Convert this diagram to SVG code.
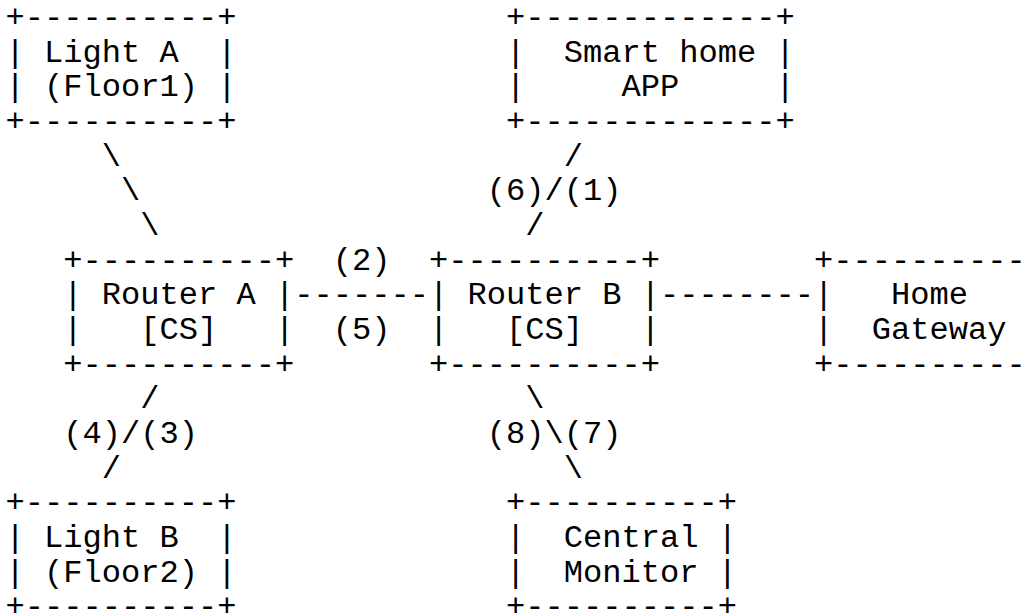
<svg xmlns="http://www.w3.org/2000/svg" width="1034" height="615" viewBox="0 0 1034 615">
<style>
text{font-family:"Liberation Mono","DejaVu Sans Mono",monospace;font-size:32.08px;fill:#000;white-space:pre}
</style>
<rect width="1034" height="615" fill="#fff"/>
<g id="lightA" xml:space="preserve">
<text x="5.4" y="27">+----------+</text>
<text x="5.4" y="61.67">| Light A  |</text>
<text x="5.4" y="96.34">| (Floor1) |</text>
<text x="5.4" y="131.01">+----------+</text>
</g>
<g id="smartHomeApp" xml:space="preserve">
<text x="505.9" y="27">+-------------+</text>
<text x="505.9" y="61.67">|  Smart home |</text>
<text x="505.9" y="96.34">|     APP     |</text>
<text x="505.9" y="131.01">+-------------+</text>
</g>
<g id="routerA" xml:space="preserve">
<text x="63.15" y="269.69">+----------+</text>
<text x="63.15" y="304.36">| Router A |</text>
<text x="63.15" y="339.03">|   [CS]   |</text>
<text x="63.15" y="373.7">+----------+</text>
</g>
<g id="routerB" xml:space="preserve">
<text x="428.9" y="269.69">+----------+</text>
<text x="428.9" y="304.36">| Router B |</text>
<text x="428.9" y="339.03">|   [CS]   |</text>
<text x="428.9" y="373.7">+----------+</text>
</g>
<g id="homeGateway" xml:space="preserve">
<text x="813.9" y="269.69">+----------</text>
<text x="813.9" y="304.36">|   Home</text>
<text x="813.9" y="339.03">|  Gateway</text>
<text x="813.9" y="373.7">+----------</text>
</g>
<g id="lightB" xml:space="preserve">
<text x="5.4" y="512.38">+----------+</text>
<text x="5.4" y="547.05">| Light B  |</text>
<text x="5.4" y="581.72">| (Floor2) |</text>
<text x="5.4" y="616.39">+----------+</text>
</g>
<g id="centralMonitor" xml:space="preserve">
<text x="505.9" y="512.38">+----------+</text>
<text x="505.9" y="547.05">|  Central |</text>
<text x="505.9" y="581.72">|  Monitor |</text>
<text x="505.9" y="616.39">+----------+</text>
</g>
<g id="connectors" xml:space="preserve">
<text x="101.65" y="165.68">\</text>
<text x="120.9" y="200.35">\</text>
<text x="140.15" y="235.02">\</text>
<text x="563.65" y="165.68">/</text>
<text x="486.65" y="200.35">(6)/(1)</text>
<text x="525.15" y="235.02">/</text>
<text x="332.65" y="269.69">(2)</text>
<text x="294.15" y="304.36">-------</text>
<text x="332.65" y="339.03">(5)</text>
<text x="659.9" y="304.36">--------</text>
<text x="140.15" y="408.37">/</text>
<text x="63.15" y="443.04">(4)/(3)</text>
<text x="101.65" y="477.71">/</text>
<text x="525.15" y="408.37">\</text>
<text x="486.65" y="443.04">(8)\(7)</text>
<text x="563.65" y="477.71">\</text>
</g>
</svg>
